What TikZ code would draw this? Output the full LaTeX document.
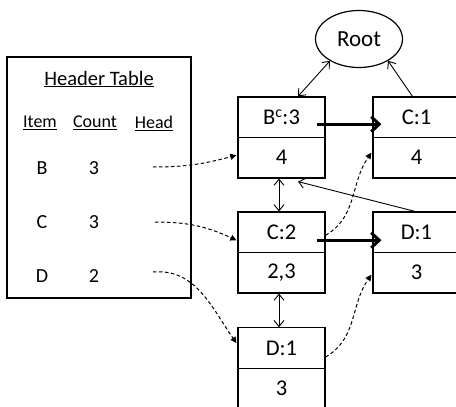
\documentclass[tikz,border=0pt]{standalone}
\usepackage{fontspec}
\setmainfont{Carlito}
\usetikzlibrary{arrows.meta,shapes.geometric}
\begin{document}
\begin{tikzpicture}[x=1pt,y=-1pt,
  cell/.style={draw,line width=1.2pt,minimum width=87pt,minimum height=40.5pt,inner sep=0pt,font=\fontsize{22.5}{26}\selectfont},
  tbltxt/.style={inner sep=0pt,font=\fontsize{20}{24}\selectfont},
  colhead/.style={inner sep=0pt,font=\fontsize{18}{21}\selectfont},
  thin/.style={line width=0.9pt},
  barb/.style={thin,-{Straight Barb[length=6pt,width=10pt]}},
  dbarb/.style={thin,{Straight Barb[length=6pt,width=10pt]}-{Straight Barb[length=6pt,width=10pt]}},
  thick arrow/.style={line width=3pt,-{Straight Barb[length=8pt,width=15pt,line width=3pt]}},
  dashlink/.style={line width=1pt,dash pattern=on 3.5pt off 2.5pt,-{Triangle[length=6pt,width=6pt]}}
]
\useasboundingbox (0,0) rectangle (456,407);
\clip (0,0) rectangle (456,407);
\fill[white] (0,0) rectangle (456,407);

% header table
\node[draw,line width=1.3pt,minimum width=184pt,minimum height=241pt,inner sep=0pt] (ht) at (99,177.5) {};
\node[inner sep=0pt,font=\fontsize{20.5}{24}\selectfont] (title) at (99,79) {\underline{Header Table}};
\node[colhead] (item) at (40,123) {\underline{Item}};
\node[colhead] (count) at (95,123) {\underline{Count}};
\node[colhead] (head) at (154,123) {\underline{Head}};
\node[tbltxt] (ib) at (42,168) {B};
\node[tbltxt] (cb3) at (94,168) {3};
\node[tbltxt] (ic) at (42,222) {C};
\node[tbltxt] (cc3) at (94,222) {3};
\node[tbltxt] (id) at (42,276) {D};
\node[tbltxt] (cd2) at (94,276) {2};
\coordinate (hb) at (153,167);
\coordinate (hc) at (155,222);
\coordinate (hd) at (153,272);

% root
\node[draw,ellipse,line width=1.2pt,minimum width=87pt,minimum height=57pt,inner sep=0pt,font=\fontsize{23}{27}\selectfont] (root) at (359,39) {Root};

% tree nodes
\node[cell] (bt) at (281.5,117.25) {B\textsuperscript{c}:3};
\node[cell] (bb) at (281.5,157.75) {4};
\node[cell] (ct) at (416.5,117.25) {C:1};
\node[cell] (cb) at (416.5,157.75) {4};
\node[cell] (c2t) at (281.5,232.25) {C:2};
\node[cell] (c2b) at (281.5,272.75) {2,3};
\node[cell] (d1t) at (416.5,232.25) {D:1};
\node[cell] (d1b) at (416.5,272.75) {3};
\node[cell] (d3t) at (281.5,348) {D:1};
\node[cell] (d3b) at (281.5,388.5) {3};

% parent links
\draw[dbarb] ([xshift=16.5pt]bt.north) -- (root.217);
\draw[barb] ([xshift=-4pt]ct.north) -- (root.323);
\draw[dbarb] ([xshift=-2.5pt]bb.south) -- ([xshift=-2.5pt]c2t.north);
\draw[dbarb] ([xshift=-2.5pt]c2b.south) -- ([xshift=-2.5pt]d3t.north);
\draw[barb] ([xshift=-1.5pt]d1t.north) -- ([xshift=16.5pt,yshift=-3pt]bb.south);

% child links
\draw[thick arrow] ([xshift=-9pt,yshift=-7pt]bt.east) -- ([xshift=9pt,yshift=-7pt]ct.west);
\draw[thick arrow] ([xshift=-9pt,yshift=-8pt]c2t.east) -- ([xshift=9pt,yshift=-8pt]d1t.west);

% node links
\draw[dashlink] (hb) to[out=0,in=195] ([xshift=-1pt,yshift=2.5pt]bb.west);
\draw[dashlink] (hc) to[out=0,in=155] ([xshift=-1pt,yshift=-8pt]c2t.west);
\draw[dashlink] (hd) to[out=5,in=125] ([xshift=-1pt,yshift=5pt]d3t.west);
\draw[dashlink] ([yshift=-3pt]c2t.east) to[out=30,in=235] ([xshift=-1pt,yshift=5pt]cb.west);
\draw[dashlink] ([yshift=-9pt]d3t.east) to[out=30,in=235] ([xshift=-1pt,yshift=-2pt]d1b.west);
\end{tikzpicture}
\end{document}
